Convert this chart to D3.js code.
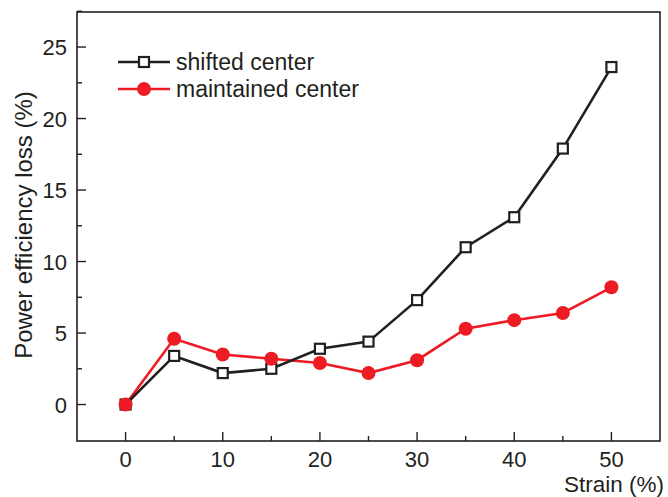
<!DOCTYPE html>
<html>
<head>
<meta charset="utf-8">
<script src="https://cdn.jsdelivr.net/npm/d3@7"></script>
<style>
  body { margin: 0; background: #fff; }
  text { font-family: "Liberation Sans", Arial, sans-serif; fill: #231f20; }
</style>
</head>
<body>
<div class="chart"></div>
<script>
var strain = [0, 5, 10, 15, 20, 25, 30, 35, 40, 45, 50];
var shifted = [0, 3.4, 2.2, 2.5, 3.9, 4.4, 7.3, 11.0, 13.1, 17.9, 23.6];
var maintained = [0, 4.6, 3.5, 3.2, 2.9, 2.2, 3.1, 5.3, 5.9, 6.4, 8.2];
var xTicks = [0, 10, 20, 30, 40, 50];
var yTicks = [0, 5, 10, 15, 20, 25];

var width = 668, height = 497,
    margin = {top: 12, right: 8, bottom: 56, left: 77};

var black = "#231f20", red = "#ed1c24";

var svg = d3.select(".chart").append("svg")
  .attr("width", width)
  .attr("height", height);

var x = d3.scaleLinear().domain([-5, 55]).range([margin.left, width - margin.right]);
var y = d3.scaleLinear().domain([-2.55, 27.45]).range([height - margin.bottom, margin.top]);

// frame
svg.append("rect")
  .attr("x", x.range()[0]).attr("y", y.range()[1])
  .attr("width", x.range()[1] - x.range()[0])
  .attr("height", y.range()[0] - y.range()[1])
  .attr("fill", "none").attr("stroke", black).attr("stroke-width", 1.6);

// x axis ticks (inward)
var xMinor = d3.range(0, 50.1, 5);
svg.append("g").selectAll("line").data(xMinor).enter().append("line")
  .attr("x1", d => x(d)).attr("x2", d => x(d))
  .attr("y1", y.range()[0])
  .attr("y2", d => y.range()[0] - (d % 10 === 0 ? 9 : 5))
  .attr("stroke", black).attr("stroke-width", 1.4);

svg.append("g").selectAll("text").data(xTicks).enter().append("text")
  .attr("x", d => x(d)).attr("y", 467)
  .attr("text-anchor", "middle").attr("font-size", 22)
  .text(d => d);

// y axis ticks (inward)
var yMinor = d3.range(0, 27.6, 2.5);
svg.append("g").selectAll("line").data(yMinor).enter().append("line")
  .attr("x1", x.range()[0])
  .attr("x2", d => x.range()[0] + (d % 5 === 0 ? 9 : 5))
  .attr("y1", d => y(d)).attr("y2", d => y(d))
  .attr("stroke", black).attr("stroke-width", 1.4);

svg.append("g").selectAll("text").data(yTicks).enter().append("text")
  .attr("x", 67).attr("y", d => y(d) + 8)
  .attr("text-anchor", "end").attr("font-size", 22)
  .text(d => d);

// axis titles
svg.append("text")
  .attr("transform", "translate(32," + 225 + ") rotate(-90)")
  .attr("text-anchor", "middle").attr("font-size", 24)
  .text("Power efficiency loss (%)");

svg.append("text")
  .attr("x", 664).attr("y", 491.5)
  .attr("text-anchor", "end").attr("font-size", 22.5)
  .text("Strain (%)");

var line = d3.line().x((d, i) => x(strain[i])).y(d => y(d));

// maintained center (red)
svg.append("path").datum(maintained)
  .attr("d", line).attr("fill", "none")
  .attr("stroke", red).attr("stroke-width", 2.6);

// shifted center (black)
svg.append("path").datum(shifted)
  .attr("d", line).attr("fill", "none")
  .attr("stroke", black).attr("stroke-width", 2.6);

svg.append("g").selectAll("rect").data(shifted).enter().append("rect")
  .attr("x", (d, i) => x(strain[i]) - 5).attr("y", d => y(d) - 5)
  .attr("width", 10).attr("height", 10)
  .attr("fill", "#fff").attr("stroke", black).attr("stroke-width", 2.2);

svg.append("g").selectAll("circle").data(maintained).enter().append("circle")
  .attr("cx", (d, i) => x(strain[i])).attr("cy", d => y(d))
  .attr("r", 7).attr("fill", red);

// legend
var legend = svg.append("g");
var entries = [
  {label: "shifted center", color: black, sym: "square", y: 62},
  {label: "maintained center", color: red, sym: "circle", y: 89}
];
entries.forEach(function(e) {
  legend.append("line")
    .attr("x1", 118).attr("x2", 170).attr("y1", e.y).attr("y2", e.y)
    .attr("stroke", e.color).attr("stroke-width", 2.6);
  if (e.sym === "square") {
    legend.append("rect")
      .attr("x", 144 - 5).attr("y", e.y - 5).attr("width", 10).attr("height", 10)
      .attr("fill", "#fff").attr("stroke", e.color).attr("stroke-width", 2.2);
  } else {
    legend.append("circle")
      .attr("cx", 144).attr("cy", e.y).attr("r", 7).attr("fill", e.color);
  }
  legend.append("text")
    .attr("x", 176).attr("y", e.y + 8).attr("font-size", 23)
    .text(e.label);
});
</script>
</body>
</html>
